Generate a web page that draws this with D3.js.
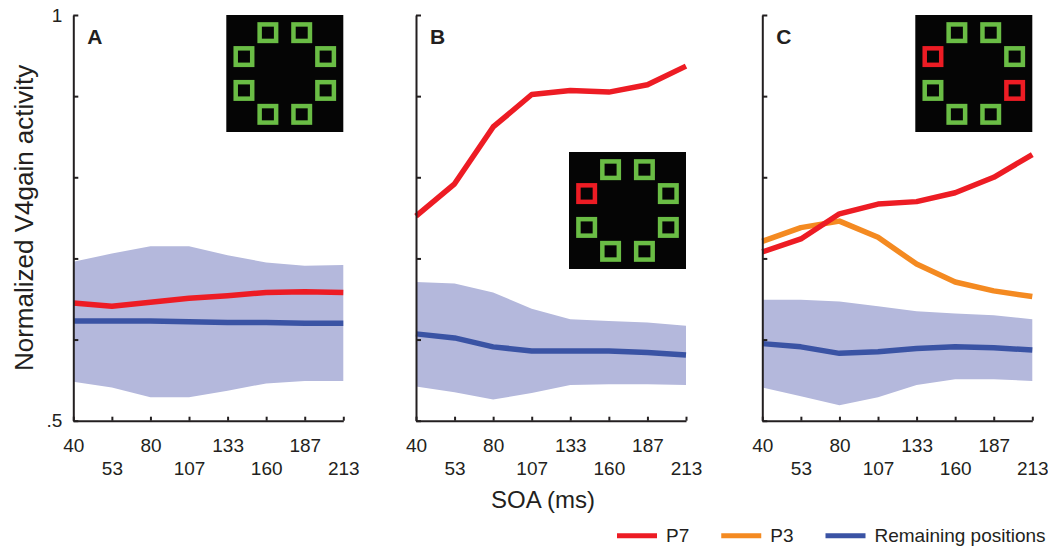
<!DOCTYPE html>
<html>
<head>
<meta charset="utf-8">
<script src="https://cdn.jsdelivr.net/npm/d3@7"></script>
<style>
  body { margin: 0; background: #fff; }
  svg { display: block; font-family: "Liberation Sans", Arial, sans-serif; }
</style>
</head>
<body>
<svg id="chart" width="1048" height="546"></svg>
<script>
// x axis: SOA in ms (drawn evenly spaced in the figure)
let soa = [40, 53, 80, 107, 133, 160, 187, 213];
let yTicks = [0.5, 0.6, 0.7, 0.8, 0.9, 1];
let yTickLabels = [".5", "", "", "", "", "1"];

// panel A
let p7A = [0.645, 0.641, 0.646, 0.651, 0.654, 0.658, 0.659, 0.658];
let remA = [0.623, 0.623, 0.623, 0.622, 0.621, 0.621, 0.620, 0.620];
let remHiA = [0.696, 0.706, 0.715, 0.715, 0.704, 0.695, 0.691, 0.692];
let remLoA = [0.548, 0.541, 0.529, 0.529, 0.537, 0.546, 0.549, 0.549];

// panel B
let p7B = [0.752, 0.792, 0.862, 0.902, 0.907, 0.905, 0.914, 0.937];
let remB = [0.607, 0.602, 0.591, 0.586, 0.586, 0.586, 0.584, 0.581];
let remHiB = [0.671, 0.669, 0.658, 0.638, 0.625, 0.623, 0.621, 0.617];
let remLoB = [0.542, 0.535, 0.526, 0.534, 0.544, 0.545, 0.545, 0.544];

// panel C
let p7C = [0.708, 0.724, 0.755, 0.767, 0.770, 0.781, 0.800, 0.828];
let p3C = [0.721, 0.738, 0.746, 0.726, 0.693, 0.671, 0.660, 0.653];
let remC = [0.595, 0.591, 0.583, 0.585, 0.589, 0.591, 0.590, 0.587];
let remHiC = [0.649, 0.649, 0.647, 0.641, 0.635, 0.632, 0.630, 0.625];
let remLoC = [0.541, 0.530, 0.519, 0.529, 0.544, 0.551, 0.551, 0.549];

// inset stimulus: which of the 8 placeholder slots are red
let panelLabels = ["A", "B", "C"];
let insetRedA = [];
let insetRedB = [4];
let insetRedC = [0, 4];

let legendNames = ["P7", "P3", "Remaining positions"];

const ink = "#231F20";
const colors = { P7: "#ED1C24", P3: "#F48A21", rem: "#3A53A4", band: "#B4B8DC" };

const svg = d3.select("svg#chart");
const plotTop = 15;
const plotBottom = 420.7;
const plotWidth = 270;
const panelLeft = [73.3, 416, 762.3];
const insetSize = 117;
const insetTop = [15, 152, 15];

let panels = [
  { p7: p7A, p3: null, rem: remA, hi: remHiA, lo: remLoA, red: insetRedA },
  { p7: p7B, p3: null, rem: remB, hi: remHiB, lo: remLoB, red: insetRedB },
  { p7: p7C, p3: p3C, rem: remC, hi: remHiC, lo: remLoC, red: insetRedC }
];

let yScale = d3.scaleLinear()
  .domain([0.5, 1])
  .range([plotBottom, plotTop]);

let xScale = d3.scalePoint()
  .domain(soa)
  .range([0, plotWidth]);

panels.forEach(function(p, idx) {
  const plot = svg.append("g").attr("transform", translate(panelLeft[idx], 0));

  let band = d3.area()
    .x((d, i) => xScale(soa[i]))
    .y0((d, i) => yScale(p.lo[i]))
    .y1((d, i) => yScale(p.hi[i]));

  plot.append("path")
    .attr("d", band(p.hi))
    .attr("fill", colors.band);

  let line = d3.line()
    .x((d, i) => xScale(soa[i]))
    .y(d => yScale(d));

  let drawLine = function(values, color) {
    plot.append("path")
      .attr("d", line(values))
      .attr("fill", "none")
      .attr("stroke", color)
      .attr("stroke-width", 5.5)
      .attr("stroke-linejoin", "round");
  };

  drawLine(p.rem, colors.rem);
  if (p.p3) drawLine(p.p3, colors.P3);
  drawLine(p.p7, colors.P7);

  // axes, ticks pointing inward
  let yAxis = d3.axisLeft(yScale)
    .tickValues(yTicks)
    .tickSize(-5)
    .tickSizeOuter(0)
    .tickPadding(11)
    .tickFormat((d, i) => idx === 0 ? yTickLabels[i] : "");

  let xAxis = d3.axisBottom(xScale)
    .tickSize(-4)
    .tickSizeOuter(0)
    .tickFormat(d => String(d));

  let yGroup = plot.append("g").call(yAxis);
  let xGroup = plot.append("g")
    .attr("transform", translate(0, plotBottom))
    .call(xAxis);

  [xGroup, yGroup].forEach(function(g) {
    g.selectAll("path, line").attr("stroke", ink).attr("stroke-width", 2);
    g.selectAll("text")
      .attr("fill", ink)
      .style("font-size", "19px")
      .style("font-family", "'Liberation Sans', Arial, sans-serif");
  });

  // alternate the x labels over two rows
  xGroup.selectAll(".tick text")
    .attr("dy", 0)
    .attr("y", (d, i) => i % 2 === 0 ? 31 : 54.3);

  plot.append("text")
    .attr("x", 14)
    .attr("y", 44)
    .attr("fill", ink)
    .style("font-size", "21px")
    .style("font-weight", "bold")
    .text(panelLabels[idx]);

  // stimulus inset
  const inset = plot.append("g")
    .attr("transform", translate(plotWidth - insetSize, insetTop[idx]));

  inset.append("rect")
    .attr("width", insetSize)
    .attr("height", insetSize)
    .attr("fill", "#050505");

  let slots = d3.range(8);
  const sq = 16.5;
  inset.selectAll("rect.slot")
    .data(slots)
    .join("rect")
    .attr("class", "slot")
    .attr("x", k => insetSize / 2 + 44.2 * Math.cos((22.5 + 45 * k) * Math.PI / 180) - sq / 2)
    .attr("y", k => insetSize / 2 + 44.2 * Math.sin((22.5 + 45 * k) * Math.PI / 180) - sq / 2)
    .attr("width", sq)
    .attr("height", sq)
    .attr("fill", "none")
    .attr("stroke", k => p.red.includes(k) ? colors.P7 : "#6ABD45")
    .attr("stroke-width", 4.5);
});

// axis titles
const yTitleGroup = svg.append("g").attr("transform", translate(33, midpoint(yScale.range())));
yTitleGroup.append("text")
  .attr("transform", "rotate(-90)")
  .attr("text-anchor", "middle")
  .attr("fill", ink)
  .style("font-size", "26px")
  .text("Normalized V4gain activity");

svg.append("text")
  .attr("x", 543)
  .attr("y", 508)
  .attr("text-anchor", "middle")
  .attr("fill", ink)
  .style("font-size", "24px")
  .text("SOA (ms)");

// legend
let legendColors = [colors.P7, colors.P3, colors.rem];
let lx = 617;
legendNames.forEach(function(name, i) {
  svg.append("line")
    .attr("x1", lx).attr("x2", lx + 40)
    .attr("y1", 535.7).attr("y2", 535.7)
    .attr("stroke", legendColors[i])
    .attr("stroke-width", 5);
  let t = svg.append("text")
    .attr("x", lx + 49)
    .attr("y", 542)
    .attr("fill", ink)
    .style("font-size", "19px")
    .text(name);
  lx += 49 + t.node().getComputedTextLength() + 32;
});

function midpoint(range) {
  return range[0] + (range[1] - range[0]) / 2.0;
}

function translate(x, y) {
  return "translate(" + String(x) + "," + String(y) + ")";
}
</script>
</body>
</html>
